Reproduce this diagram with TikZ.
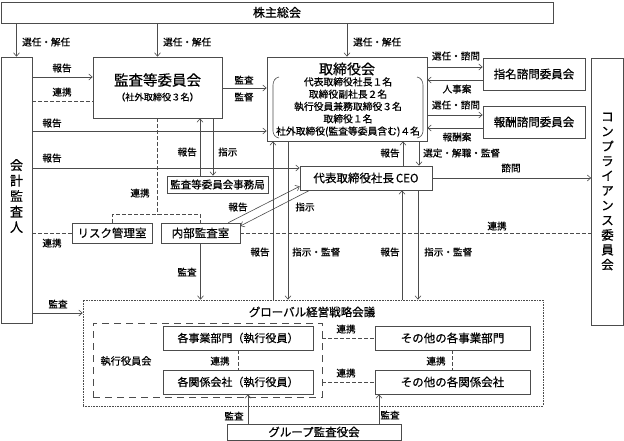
\documentclass[tikz,border=0pt]{standalone}
\usepackage{fontspec}
\setmainfont{Noto Sans CJK JP}[UprightFeatures={FakeBold=0.6}]
\usetikzlibrary{arrows.meta}
\definecolor{linegray}{gray}{0.3}

\begin{document}
\begin{tikzpicture}[x=1pt, y=-1pt, >={Straight Barb[length=3.5pt,width=6pt]},
  box/.style={draw=linegray, line width=0.6pt, inner sep=0pt, align=center},
  lbl/.style={font=\fontsize{9.6}{11}\selectfont, inner sep=0pt},
  boxfont/.style={font=\fontsize{11.5}{13}\selectfont},
  arr/.style={->, draw=linegray, line width=0.6pt},
  link/.style={draw=linegray, line width=0.6pt, dash pattern=on 3.5pt off 2.5pt}]
  \useasboundingbox (0,0) rectangle (624,441);

  % Top and sides
  \node[box, font=\fontsize{12}{14}\selectfont, minimum width=552pt, minimum height=21pt] (soukai) at (277,12.5) {株主総会};
  \node[box, minimum width=31pt, minimum height=266pt] (kaikei) at (16.5,190) {};
  \node[align=center, font=\fontsize{13}{15.5}\selectfont] (kaikeitext) at (16.5,196) {会\\計\\監\\査\\人};
  \node[box, font=\fontsize{12.5}{14.8}\selectfont, minimum width=32pt, minimum height=267pt] (comp) at (607.5,191.5) {コ\\ン\\プ\\ラ\\イ\\ア\\ン\\ス\\委\\員\\会};

  % Committees
  \node[box, minimum width=129pt, minimum height=61pt] (kansa) at (157.5,87.5) {};
  \node[font=\fontsize{14.5}{16}\selectfont] (kansatitle) at (157.5,80) {監査等委員会};
  \node[font=\fontsize{9.2}{11}\selectfont] (kansasub) at (157.5,97) {（社外取締役３名）};

  \node[box, minimum width=160pt, minimum height=84pt] (torishimari) at (347,99) {};
  \node[font=\fontsize{14}{16}\selectfont] (trititle) at (347,69) {取締役会};
  \node[align=center, font=\fontsize{9.8}{12.3}\selectfont] (trimember) at (348,107) {代表取締役社長１名\\取締役副社長２名\\執行役員兼務取締役３名\\取締役１名\\社外取締役(監査等委員含む)４名};
  \draw[linegray, line width=0.6pt] (279,77) to[out=190,in=90] (273,85) -- (273,131) to[out=-90,in=170] (279,138);
  \draw[linegray, line width=0.6pt] (417,77) to[out=-10,in=90] (423,85) -- (423,131) to[out=-90,in=10] (417,138);

  \node[box, boxfont, minimum width=102pt, minimum height=32pt] (shimei) at (534,74) {指名諮問委員会};
  \node[box, boxfont, minimum width=102pt, minimum height=32pt] (houshu) at (534,122) {報酬諮問委員会};
  \node[box, boxfont, minimum width=132pt, minimum height=24pt] (ceo) at (366,178) {代表取締役社長\,CEO};
  \node[box, font=\fontsize{10.5}{12}\selectfont, minimum width=101pt, minimum height=17pt] (jimukyoku) at (217.5,184.5) {監査等委員会事務局};
  \node[box, boxfont, minimum width=80pt, minimum height=20pt] (risk) at (112,233) {リスク管理室};
  \node[box, boxfont, minimum width=79pt, minimum height=20pt] (naibu) at (200.5,233) {内部監査室};

  % Global meeting
  \node[box, dash pattern=on 0.8pt off 0.8pt, minimum width=460pt, minimum height=106pt] (global) at (313,353) {};
  \node[boxfont] (globaltitle) at (312,312) {グローバル経営戦略会議};
  \node[box, dash pattern=on 7pt off 5pt, minimum width=229pt, minimum height=74pt] (shikkou) at (207.5,360) {};
  \node[font=\fontsize{10.2}{12}\selectfont] (shikkoutitle) at (126,361) {執行役員会};
  \node[box, font=\fontsize{11}{13}\selectfont, minimum width=150pt, minimum height=24pt] (jigyou) at (238,338) {各事業部門（執行役員）};
  \node[box, font=\fontsize{11}{13}\selectfont, minimum width=150pt, minimum height=24pt] (kankei) at (238,382) {各関係会社（執行役員）};
  \node[box, boxfont, minimum width=155pt, minimum height=24pt] (sonota1) at (452.5,338) {その他の各事業部門};
  \node[box, boxfont, minimum width=155pt, minimum height=24pt] (sonota2) at (452.5,382) {その他の各関係会社};
  \node[box, boxfont, minimum width=174pt, minimum height=16pt] (group) at (314,432) {グループ監査役会};

  % Shareholders
  \draw[arr] (kaikei.north |- soukai.south) -- (kaikei.north);
  \draw[arr] (kansa.north |- soukai.south) -- (kansa.north);
  \draw[arr] (torishimari.north |- soukai.south) -- (torishimari.north);
  \node[lbl, anchor=west] (sen1) at (22,42) {選任・解任};
  \node[lbl, anchor=west] (sen2) at (163,42) {選任・解任};
  \node[lbl, anchor=west] (sen3) at (353,42) {選任・解任};

  % Auditor
  \draw[arr] (kaikei.east |- 0,77) -- (kansa.west |- 0,77);
  \draw[link] (kaikei.east |- 0,101) -- (kansa.west |- 0,101);
  \draw[arr] (kaikei.east |- 0,131) -- (torishimari.west |- 0,131);
  \draw[arr] (kaikei.east |- 0,168) -- (ceo.west |- 0,168);
  \draw[link] (kaikei.east |- risk.west) -- (risk.west);
  \draw[arr] (kaikei.east |- 0,313) -- (global.west |- 0,313);
  \node[lbl] (hk1) at (62,68) {報告};
  \node[lbl] (rk1) at (62,92) {連携};
  \node[lbl] (hk2) at (52,123) {報告};
  \node[lbl] (hk3) at (52,158) {報告};
  \node[lbl] (rk2) at (52,243) {連携};
  \node[lbl] (ks1) at (58,304) {監査};

  % Audit committee
  \draw[arr] (kansa.east |- 0,88) -- (torishimari.west |- 0,88);
  \draw[arr] (jimukyoku.north -| 200,0) -- (kansa.south -| 200,0);
  \draw[arr] (kansa.south -| 213,0) -- (jimukyoku.north -| 213,0);
  \draw[link] (kansa.south) -- ([yshift=8pt]kansa.south |- naibu.north);
  \draw[link] (risk.north) -- ++(0,-8) -| (naibu.north);
  \node[lbl] (ks2) at (244,80) {監査};
  \node[lbl] (kt1) at (244,97) {監督};
  \node[lbl, anchor=east] (hk4) at (197,152) {報告};
  \node[lbl, anchor=west] (sj1) at (218,152) {指示};
  \node[lbl] (rk3) at (140,193) {連携};

  % Board and advisory committees
  \draw[arr] (torishimari.east |- 0,67) -- (shimei.west |- 0,67);
  \draw[arr] (shimei.west |- 0,80) -- (torishimari.east |- 0,80);
  \draw[arr] (torishimari.east |- 0,115) -- (houshu.west |- 0,115);
  \draw[arr] (houshu.west |- 0,128) -- (torishimari.east |- 0,128);
  \node[lbl] (ss1) at (456,56) {選任・諮問};
  \node[lbl] (jj1) at (457,89) {人事案};
  \node[lbl] (ss2) at (456,105) {選任・諮問};
  \node[lbl] (hs1) at (457,137) {報酬案};

  % CEO
  \draw[arr] (ceo.north -| 403,0) -- (torishimari.south -| 403,0);
  \draw[arr] (torishimari.south -| 419,0) -- (ceo.north -| 419,0);
  \draw[arr] (ceo.east) -- (comp.west |- ceo.east);
  \draw[arr] ([xshift=-12pt]naibu.north east) -- ([yshift=4pt]ceo.south west);
  \draw[arr] ([xshift=10pt]ceo.south west) -- ([yshift=7pt]naibu.east);
  \draw[link] (naibu.east) -- (comp.west |- naibu.east);
  \node[lbl] (hk5) at (390,153) {報告};
  \node[lbl, anchor=west] (sk1) at (423,153) {選定・解職・監督};
  \node[lbl] (sm1) at (511,168) {諮問};
  \node[lbl] (hk6) at (238,207) {報告};
  \node[lbl] (sj2) at (305,207) {指示};
  \node[lbl] (rk4) at (497,226) {連携};

  % Down to the global meeting
  \draw[arr] (naibu.south) -- (global.north -| naibu.south);
  \draw[arr] (global.north -| 273,0) -- (torishimari.south -| 273,0);
  \draw[arr] (torishimari.south -| 288,0) -- (global.north -| 288,0);
  \draw[arr] (global.north -| 402,0) -- (ceo.south -| 402,0);
  \draw[arr] (ceo.south -| 418,0) -- (global.north -| 418,0);
  \node[lbl] (ks3) at (187,272) {監査};
  \node[lbl] (hk7) at (260,252) {報告};
  \node[lbl, anchor=west] (sk2) at (292,252) {指示・監督};
  \node[lbl] (hk8) at (390,252) {報告};
  \node[lbl, anchor=west] (sk3) at (424,252) {指示・監督};

  % Inside the global meeting
  \draw[link] (jigyou.south) -- (kankei.north);
  \draw[link] (sonota1.south) -- (sonota2.north);
  \draw[link] (shikkou.east |- sonota1.west) -- (sonota1.west);
  \draw[link] (shikkou.east |- sonota2.west) -- (sonota2.west);
  \draw[arr] (group.north -| 248,0) -- (kankei.south -| 248,0);
  \draw[arr] (group.north -| 379,0) -- (sonota2.south -| 379,0);
  \node[lbl] (rk5) at (220,361) {連携};
  \node[lbl] (rk6) at (436,361) {連携};
  \node[lbl] (rk7) at (346,329) {連携};
  \node[lbl] (rk8) at (346,373) {連携};
  \node[lbl] (ks4) at (234,416) {監査};
  \node[lbl] (ks5) at (390,415) {監査};
\end{tikzpicture}
\end{document}
